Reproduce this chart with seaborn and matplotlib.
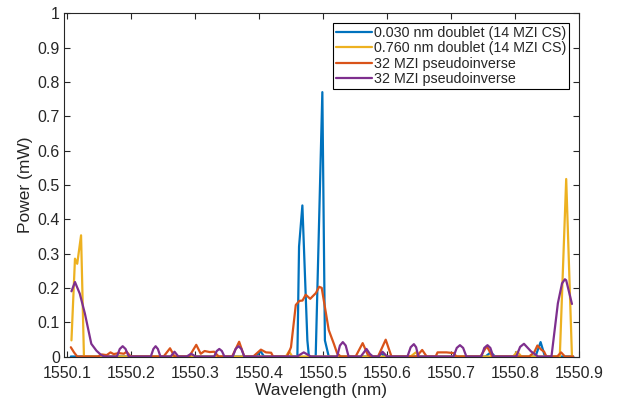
import numpy as np
import pandas as pd
import matplotlib
matplotlib.use("Agg")
import matplotlib.pyplot as plt
import seaborn as sns
from matplotlib.ticker import FormatStrFormatter, FuncFormatter

# ---- data (wavelength in nm, power in mW) ----
blue_x = [1550.106, 1550.396, 1550.402, 1550.408, 1550.460, 1550.4626, 1550.4678,
          1550.4756, 1550.478, 1550.4886, 1550.499, 1550.503, 1550.509,
          1550.586, 1550.590, 1550.597, 1550.754, 1550.762, 1550.769,
          1550.832, 1550.840, 1550.846, 1550.850, 1550.891]
blue_y = [0, 0, 0.016, 0, 0, 0.32, 0.44,
          0.047, 0, 0, 0.77, 0.047, 0,
          0, 0.01, 0, 0, 0.012, 0,
          0, 0.042, 0.005, 0, 0]

yellow_x = [1550.107, 1550.1125, 1550.116, 1550.122, 1550.1265,
            1550.442, 1550.447, 1550.452, 1550.637, 1550.645, 1550.651,
            1550.797, 1550.8035, 1550.810, 1550.870, 1550.880, 1550.889]
yellow_y = [0.047, 0.285, 0.27, 0.353, 0,
            0, 0.015, 0, 0, 0.012, 0,
            0, 0.014, 0, 0, 0.517, 0]

orange_x = [1550.106, 1550.111, 1550.116, 1550.148, 1550.1545, 1550.162, 1550.168,
            1550.173, 1550.181, 1550.189, 1550.193, 1550.1996,
            1550.251, 1550.261, 1550.268, 1550.291, 1550.302, 1550.309,
            1550.315, 1550.323, 1550.330, 1550.337, 1550.358, 1550.369,
            1550.377, 1550.391, 1550.403, 1550.411, 1550.419, 1550.422,
            1550.444, 1550.450, 1550.4575, 1550.463, 1550.468, 1550.473,
            1550.480, 1550.489, 1550.494, 1550.498, 1550.503, 1550.509,
            1550.517, 1550.522, 1550.5275,
            1550.551, 1550.562, 1550.570, 1550.575, 1550.586, 1550.598,
            1550.607, 1550.646, 1550.655, 1550.662, 1550.676, 1550.679,
            1550.693, 1550.704, 1550.7085, 1550.746, 1550.756, 1550.7646,
            1550.822, 1550.830, 1550.835, 1550.841, 1550.8455, 1550.849,
            1550.866, 1550.872, 1550.878, 1550.891]
orange_y = [0.027, 0.012, 0, 0, 0.006, 0.004, 0.012,
            0.007, 0.01, 0.008, 0.014, 0,
            0, 0.024, 0, 0, 0.034, 0.008,
            0.016, 0.013, 0.014, 0, 0, 0.043,
            0, 0, 0.02, 0.012, 0.011, 0,
            0, 0.027, 0.15, 0.162, 0.163, 0.18,
            0.168, 0.185, 0.203, 0.2, 0.144, 0.077,
            0.037, 0.01, 0,
            0, 0.039, 0.005, 0, 0, 0.049,
            0, 0, 0.019, 0, 0, 0.012,
            0.012, 0.01, 0, 0, 0.03, 0,
            0, 0.012, 0.032, 0.02, 0.014, 0,
            0, 0.012, 0, 0]

purple_x = [1550.107, 1550.1125, 1550.120, 1550.128, 1550.138, 1550.146, 1550.153,
            1550.158, 1550.178, 1550.1825, 1550.187, 1550.1915, 1550.1965,
            1550.231, 1550.235, 1550.2385, 1550.242, 1550.246,
            1550.262, 1550.268, 1550.274, 1550.287, 1550.294, 1550.301,
            1550.330, 1550.334, 1550.338, 1550.342, 1550.346,
            1550.359, 1550.3635, 1550.368, 1550.3725, 1550.377,
            1550.4595, 1550.470, 1550.481,
            1550.522, 1550.5265, 1550.531, 1550.5355, 1550.540,
            1550.559, 1550.568, 1550.573, 1550.578,
            1550.587, 1550.593, 1550.600,
            1550.632, 1550.637, 1550.642, 1550.6455, 1550.649,
            1550.704, 1550.709, 1550.714, 1550.719, 1550.724,
            1550.7475, 1550.752, 1550.757, 1550.7615, 1550.766,
            1550.802, 1550.808, 1550.814, 1550.825, 1550.836,
            1550.857, 1550.867, 1550.8735, 1550.878, 1550.880, 1550.889]
purple_y = [0.19, 0.217, 0.183, 0.125, 0.037, 0.017, 0.005,
            0, 0, 0.022, 0.03, 0.022, 0,
            0, 0.022, 0.03, 0.022, 0,
            0, 0.014, 0, 0, 0.008, 0,
            0, 0.016, 0.022, 0.016, 0,
            0, 0.022, 0.03, 0.022, 0,
            0, 0.012, 0,
            0, 0.032, 0.042, 0.032, 0,
            0, 0.022, 0.008, 0,
            0, 0.014, 0,
            0, 0.027, 0.036, 0.027, 0,
            0, 0.025, 0.033, 0.025, 0,
            0, 0.025, 0.033, 0.025, 0,
            0, 0.028, 0.037, 0.015, 0,
            0, 0.155, 0.213, 0.225, 0.222, 0.153]

labels = ["0.030 nm doublet (14 MZI CS)", "0.760 nm doublet (14 MZI CS)",
          "32 MZI pseudoinverse", "32 MZI pseudoinverse"]
colors = ["#0072BD", "#EDB120", "#D95319", "#7E2F8E"]
x_ticks = [1550.1, 1550.2, 1550.3, 1550.4, 1550.5, 1550.6, 1550.7, 1550.8, 1550.9]
y_ticks = [0, 0.1, 0.2, 0.3, 0.4, 0.5, 0.6, 0.7, 0.8, 0.9, 1.0]

sns.set_theme(style="ticks")
plt.rcParams["font.family"] = ["Liberation Sans", "DejaVu Sans"]

fig = plt.figure(figsize=(6.29, 3.99), dpi=100)
ax = fig.add_axes([0.1017, 0.1065, 0.8188, 0.8605])

series = [(blue_x, blue_y), (yellow_x, yellow_y), (orange_x, orange_y), (purple_x, purple_y)]
for (xs, ys), lab, col in zip(series, labels, colors):
    df = pd.DataFrame({"Wavelength": xs, "Power": ys})
    sns.lineplot(data=df, x="Wavelength", y="Power", ax=ax, color=col, linewidth=1.6,
                 label=lab, sort=False, estimator=None)

ax.set_xlim(1550.0953, 1550.8970)
ax.set_ylim(0, 1)
ax.set_xticks(x_ticks)
ax.set_yticks(y_ticks)
ax.xaxis.set_major_formatter(FormatStrFormatter("%.1f"))
ax.yaxis.set_major_formatter(FuncFormatter(lambda v, p: f"{v:g}"))

dark = "#262626"
for sp in ax.spines.values():
    sp.set_visible(True)
    sp.set_color(dark)
    sp.set_linewidth(0.8)
ax.tick_params(axis="both", direction="in", top=True, right=True, length=4.5, width=0.8,
               colors=dark, labelsize=11.5)
ax.tick_params(axis="x", which="major", pad=7)
ax.tick_params(axis="y", which="major", pad=3)
ax.set_xlabel("Wavelength (nm)", fontsize=12.5, color=dark, labelpad=1)
ax.set_ylabel("Power (mW)", fontsize=12.5, color=dark, labelpad=3)
ax.grid(False)
ax.set_facecolor("white")

leg = ax.legend(loc="upper right", fontsize=10.3, frameon=True, fancybox=False,
                edgecolor="black", framealpha=1, borderaxespad=0.7,
                handlelength=2.5, handletextpad=0.12, labelspacing=0.1,
                borderpad=0.2)
leg.get_frame().set_linewidth(0.8)
for t in leg.get_texts():
    t.set_color(dark)

fig.savefig("out.png", dpi=100, facecolor="white")
